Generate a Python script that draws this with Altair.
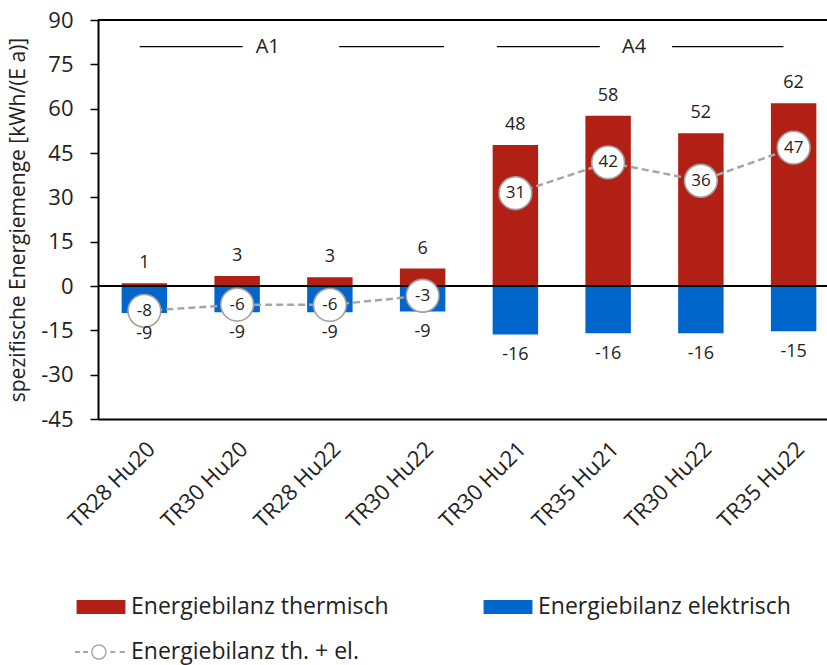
import altair as alt
import pandas as pd

# ---- data ----
groups = ["A1", "A1", "A1", "A1", "A4", "A4", "A4", "A4"]
labels = ["TR28 Hu20", "TR30 Hu20", "TR28 Hu22", "TR30 Hu22",
          "TR30 Hu21", "TR35 Hu21", "TR30 Hu22", "TR35 Hu22"]
thermisch = [0.9, 3.4, 3.0, 5.9, 47.7, 57.6, 51.7, 61.8]
elektrisch = [-9.1, -8.9, -8.9, -8.6, -16.4, -16.0, -16.0, -15.3]
bilanz = [-8.4, -6.3, -6.4, -3.3, 31.4, 41.8, 35.6, 46.8]

series_names = ["Energiebilanz thermisch", "Energiebilanz elektrisch", "Energiebilanz th. + el."]
series_colors = ["#B22015", "#0066CC", "#A6A6A6"]

# group annotation (in category units along the x axis)
ann_names = ["A1", "A4"]
ann_text_x = [1.83, 5.78]
ann_left = [(0.45, 1.56), (4.30, 5.41)]
ann_right = [(2.60, 3.73), (6.19, 7.39)]
ann_y = 81

y_ticks = [-45, -30, -15, 0, 15, 30, 45, 60, 75, 90]

RED, BLUE, GREY = series_colors
TXT = "#222222"
FONT = "Open Sans"
XRANGE = [0, 742]
MINUS = "\u2212"

keys = [f"{g}|{l}|{i}" for i, (g, l) in enumerate(zip(groups, labels))]
df = pd.DataFrame({"key": keys, "group": groups, "therm": thermisch, "elek": elektrisch, "sum": bilanz})

xband = alt.X("key:N", sort=keys,
              scale=alt.Scale(domain=keys, range=XRANGE, paddingInner=0.51, paddingOuter=0.255),
              axis=alt.Axis(title=None, labelExpr="split(datum.label, '|')[1]", labelAngle=-45,
                            labelFontSize=22, labelColor=TXT, ticks=False, domain=True,
                            domainColor="black", domainWidth=2, labelPadding=19, labelLimit=300))
yscale = alt.Scale(domain=[-45, 90], nice=False, zero=False)
yax = alt.Axis(title="spezifische Energiemenge [kWh/(E a)]", values=y_ticks, grid=False,
               labelExpr=f"replace(datum.label, '{MINUS}', '-')",
               labelFontSize=22, labelColor=TXT, titleFontSize=21, titleColor=TXT,
               titleFontWeight="normal", titlePadding=12, tickColor="black", tickSize=8,
               tickWidth=1.5, domainColor="black", domainWidth=2, labelPadding=17)

base = alt.Chart(df).transform_calculate(
    lt=f"replace(format(datum.therm, '.0f'), '{MINUS}', '-')",
    le=f"replace(format(datum.elek, '.0f'), '{MINUS}', '-')",
    ls=f"replace(format(datum.sum, '.0f'), '{MINUS}', '-')",
)

bars_t = base.mark_bar(color=RED).encode(x=xband, y=alt.Y("therm:Q", scale=yscale, axis=yax))
bars_e = base.mark_bar(color=BLUE).encode(x=xband, y=alt.Y("elek:Q"))
zero_rule = alt.Chart(df).mark_rule(color="black", strokeWidth=1.5).encode(y=alt.datum(0))
top_rule = alt.Chart(df).mark_rule(color="black", strokeWidth=2).encode(y=alt.datum(90))

lab_t = base.mark_text(dy=-20, fontSize=18, color=TXT, baseline="middle").encode(
    x=xband, y="therm:Q", text="lt:N")
lab_e = base.mark_text(dy=21, fontSize=18, color=TXT, baseline="middle").encode(
    x=xband, y="elek:Q", text="le:N")

line = base.mark_line(color=GREY, strokeDash=[7, 4], strokeWidth=2.5).encode(
    x=xband, y="sum:Q", detail="group:N")
circles = base.mark_point(filled=True, fill="white", stroke="#A0A0A0", strokeWidth=1.6,
                          size=1075, opacity=1).encode(x=xband, y="sum:Q")
lab_s = base.mark_text(fontSize=17, color=TXT, baseline="middle").encode(
    x=xband, y="sum:Q", text="ls:N")

# legend (symbol shapes as unit-box SVG paths)
rect_path = "M-0.94,-0.27 H0.94 V0.27 H-0.94 Z"
cx, r, ri = -0.08, 0.30, 0.245
ring = (f"M{cx - r},0 A{r},{r} 0 1 1 {cx + r},0 A{r},{r} 0 1 1 {cx - r},0 Z "
        f"M{cx - ri},0 A{ri},{ri} 0 1 0 {cx + ri},0 A{ri},{ri} 0 1 0 {cx - ri},0 Z")
dashes = ("M-1,-0.04 H-0.81 V0.04 H-1 Z M-0.69,-0.04 H-0.5 V0.04 H-0.69 Z "
          "M0.36,-0.04 H0.55 V0.04 H0.36 Z M0.72,-0.04 H0.92 V0.04 H0.72 Z")
line_path = ring + " " + dashes
series_shapes = [rect_path, rect_path, line_path]

leg = alt.Legend(title=None, orient="none", legendX=-23, legendY=561, columns=2,
                 direction="horizontal", symbolSize=2704,
                 labelFontSize=23, labelColor=TXT, labelLimit=400, columnPadding=93,
                 rowPadding=7, labelOffset=4, symbolStrokeWidth=0, padding=0)
leg_df = pd.DataFrame({"series": series_names, "key": [keys[0]] * 3, "v": [500, 500, 500]})
legend_layer = alt.Chart(leg_df).mark_point(filled=True, clip=True, size=2704, opacity=1).encode(
    x=xband, y="v:Q",
    color=alt.Color("series:N", sort=series_names,
                    scale=alt.Scale(domain=series_names, range=series_colors), legend=leg),
    shape=alt.Shape("series:N", sort=series_names,
                    scale=alt.Scale(domain=series_names, range=series_shapes), legend=leg))

main = alt.layer(bars_t, bars_e, zero_rule, top_rule, line, circles, lab_t, lab_e, lab_s, legend_layer)

# group annotations
xq = alt.Scale(domain=[0, 8], range=XRANGE)
seg_df = pd.DataFrame({
    "x1": [s[0] for s in ann_left] + [s[0] for s in ann_right],
    "x2": [s[1] for s in ann_left] + [s[1] for s in ann_right],
    "y": [ann_y] * 4,
})
txt_df = pd.DataFrame({"name": ann_names, "x": ann_text_x, "y": [ann_y] * 2})
segs = alt.Chart(seg_df).mark_rule(color="black", strokeWidth=1.3).encode(
    x=alt.X("x1:Q", scale=xq, axis=None), x2="x2:Q", y="y:Q")
ann_txt = alt.Chart(txt_df).mark_text(fontSize=20, color=TXT, baseline="middle").encode(
    x=alt.X("x:Q", scale=xq, axis=None), y="y:Q", text="name:N")
ann = alt.layer(segs, ann_txt)

chart = alt.layer(main, ann).resolve_scale(x="independent").properties(
    width=729, height=399,
    autosize=alt.AutoSizeParams(type="none"),
    padding={"left": 98, "top": 20, "right": 0, "bottom": 246},
).configure(font=FONT).configure_view(stroke=None)

chart.save("out.html", embed_options={"renderer": "svg", "actions": False})
